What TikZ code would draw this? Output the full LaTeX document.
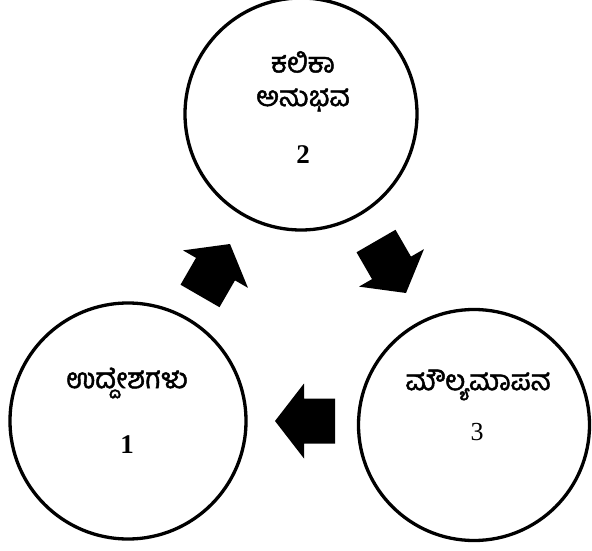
\documentclass[tikz,border=0pt]{standalone}
\usepackage{fontspec}
\newfontfamily\kn[Script=Kannada,FakeBold=1.6]{Hind Mysuru}
\newfontfamily\numfont{Liberation Serif}
\begin{document}
\begin{tikzpicture}[x=1pt,y=1pt,
  stage/.style={circle,draw=black,line width=3.3pt,inner sep=0pt},
  kntext/.style={font=\kn\fontsize{28}{31}\selectfont,inner sep=0pt},
  numtext/.style={font=\numfont\bfseries\fontsize{27}{30}\selectfont,inner sep=0pt},
  fatarrow/.style={fill=black,draw=none}]
\useasboundingbox (0,0) rectangle (592,550);
% circles
\node[stage,minimum size=232pt] (c2) at (301,436) {};
\node[stage,minimum size=236pt] (c1) at (128,129) {};
\node[stage,minimum size=231pt] (c3) at (474,125) {};
% texts
\node[kntext] (t2a) at (303,488) {ಕಲಿಕಾ};
\node[kntext] (t2b) at (303,450) {ಅನುಭವ};
\node[numtext] (n2) at (303,395) {2};
\node[kntext] (t1) at (127,167) {ಉದ್ದೇಶಗಳು};
\node[numtext] (n1) at (127,105) {1};
\node[kntext] (t3) at (478,165) {ಮೌಲ್ಯಮಾಪನ};
\node[numtext,font=\numfont\fontsize{26}{29}\selectfont] (n3) at (477,118) {3};
% arrows
\foreach \px/\py/\ang in {230/306/60, 406/257/-60, 275/129/180}{
  \begin{scope}[shift={(\px,\py)},rotate=\ang]
    \fill[fatarrow] (0,0) -- (-29,37.5) -- (-29,22.5) -- (-60,22.5)
      -- (-60,-22.5) -- (-29,-22.5) -- (-29,-37.5) -- cycle;
  \end{scope}
}
\end{tikzpicture}
\end{document}
